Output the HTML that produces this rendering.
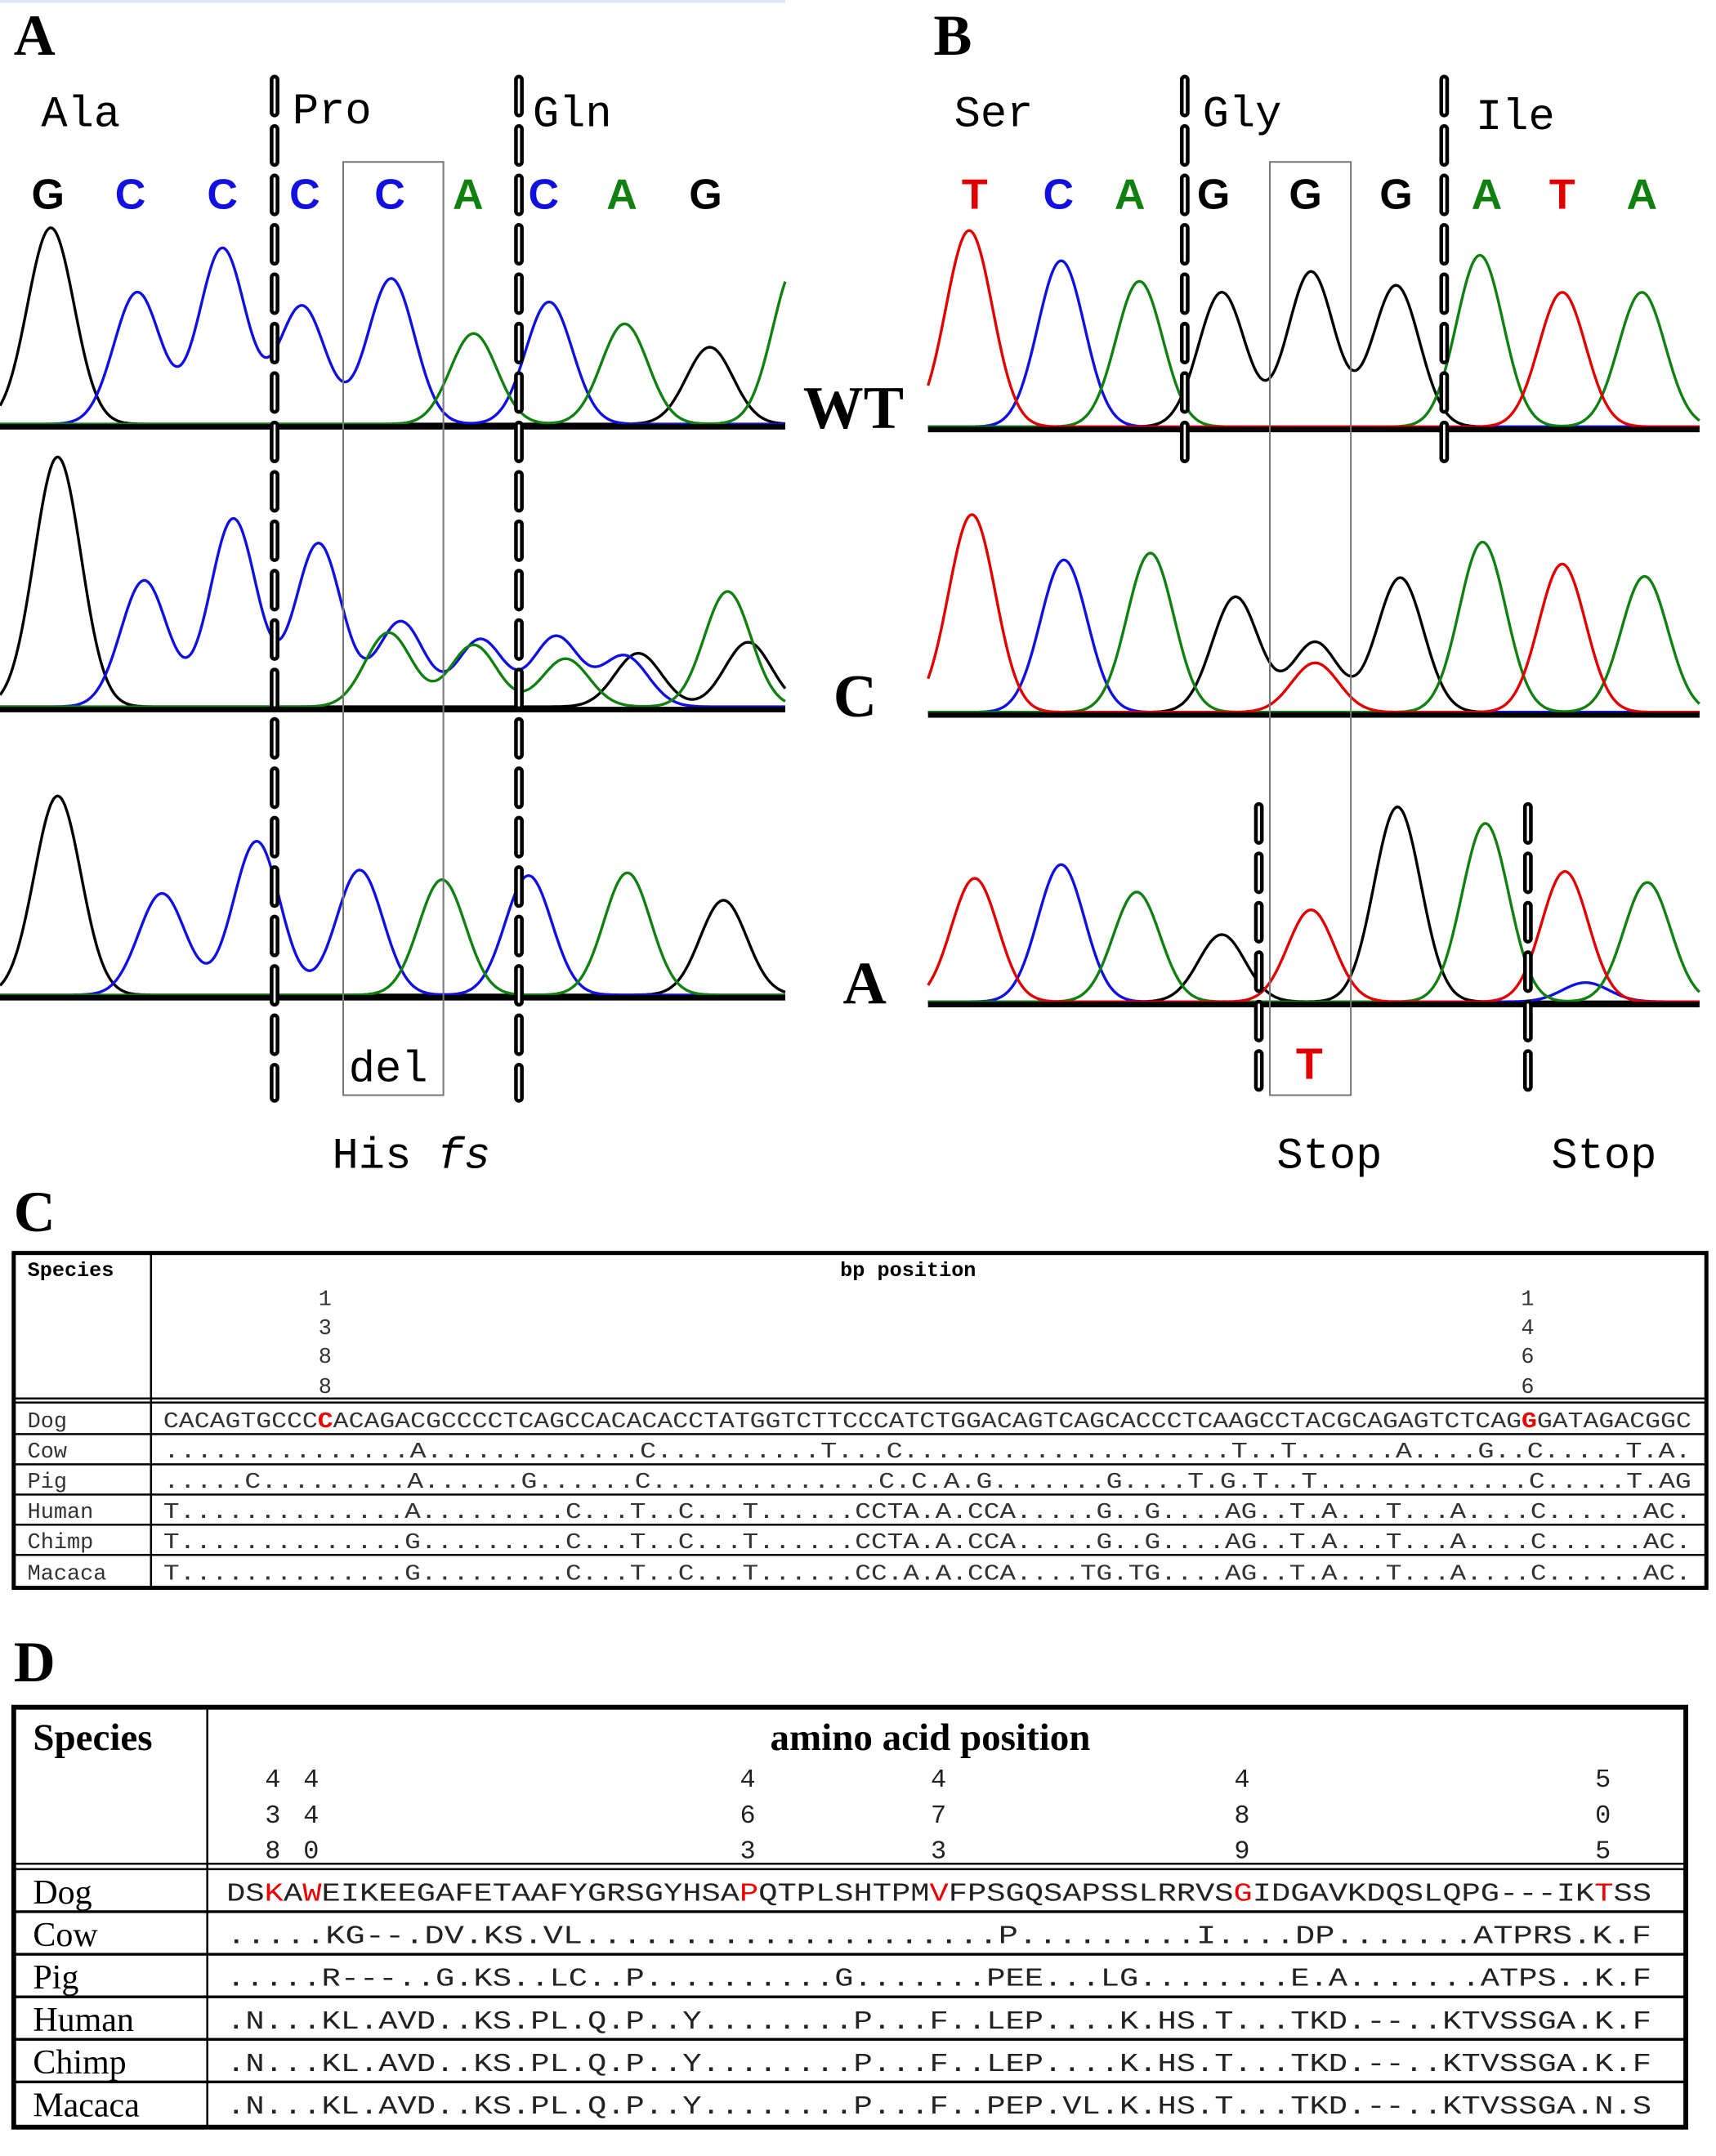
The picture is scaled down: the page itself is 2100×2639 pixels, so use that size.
<!DOCTYPE html>
<html><head><meta charset="utf-8"><style>
html,body{margin:0;padding:0;background:#fff;}
svg{display:block;}
.mono{font-family:"Liberation Mono",monospace;}
.serif{font-family:"Liberation Serif",serif;}
</style></head><body>
<svg id="fig" width="2100" height="2639" viewBox="0 0 1250 1571" preserveAspectRatio="none" xmlns="http://www.w3.org/2000/svg">
<rect x="0" y="0" width="1250" height="1571" fill="#fff"/>
<line x1="0" y1="1" x2="572" y2="1" stroke="#dde4f4" stroke-width="2"/>
<g class="serif" font-weight="bold" font-size="42" fill="#000">
<text x="10" y="40">A</text>
<text x="680" y="40">B</text>
<text x="10" y="897">C</text>
<text x="10" y="1225">D</text>
<text x="585" y="312" font-size="44">WT</text>
<text x="607" y="522" font-size="44">C</text>
<text x="614" y="731" font-size="44">A</text>
</g>
<g id="traces"></g>
<g id="overlays"></g>
<g class="mono" font-size="32" fill="#000">
<text x="30" y="92">Ala</text>
<text x="213" y="90">Pro</text>
<text x="388" y="92">Gln</text>
<text x="695" y="92">Ser</text>
<text x="876" y="92">Gly</text>
<text x="1075" y="94">Ile</text>
<text x="254" y="788">del</text>
<text x="242" y="851">His <tspan font-style="italic">fs</tspan></text>
<text x="930" y="851">Stop</text>
<text x="1130" y="851">Stop</text>
</g>
<text x="944" y="786" font-family="Liberation Sans, sans-serif" font-weight="bold" font-size="32" fill="#e00000">T</text>
<g id="bases" font-family="Liberation Sans, sans-serif" font-weight="bold" font-size="31"></g>

<!-- Table C -->
<g>
<rect x="10" y="913" width="1233" height="244" fill="none" stroke="#000" stroke-width="3"/>
<line x1="110" y1="913" x2="110" y2="1157" stroke="#000" stroke-width="1.5"/>
<line x1="10" y1="1019" x2="1243" y2="1019" stroke="#000" stroke-width="1.5"/>
<line x1="10" y1="1022" x2="1243" y2="1022" stroke="#000" stroke-width="1.5"/>
<g stroke="#000" stroke-width="1.5">
<line x1="10" y1="1045" x2="1243" y2="1045"/><line x1="10" y1="1067" x2="1243" y2="1067"/>
<line x1="10" y1="1089" x2="1243" y2="1089"/><line x1="10" y1="1111" x2="1243" y2="1111"/>
<line x1="10" y1="1133" x2="1243" y2="1133"/></g>
<g class="mono" font-size="15" font-weight="bold"><text x="20" y="930">Species</text>
<text x="612" y="930">bp position</text></g>
<g class="mono" font-size="16" fill="#333">
<text x="232" y="951">1</text><text x="232" y="972">3</text><text x="232" y="993">8</text><text x="232" y="1015">8</text>
<text x="1108" y="951">1</text><text x="1108" y="972">4</text><text x="1108" y="993">6</text><text x="1108" y="1015">6</text>
</g>
<g class="mono" font-size="16" fill="#333">
<text x="20" y="1040">Dog</text><text x="20" y="1062">Cow</text><text x="20" y="1084">Pig</text>
<text x="20" y="1106">Human</text><text x="20" y="1128">Chimp</text><text x="20" y="1151">Macaca</text>
</g>
<g class="mono" font-size="16" fill="#333">
<text x="119" y="1040" textLength="1113" lengthAdjust="spacingAndGlyphs">CACAGTGCCC<tspan fill="#e00" font-weight="bold">C</tspan>ACAGACGCCCCTCAGCCACACACCTATGGTCTTCCCATCTGGACAGTCAGCACCCTCAAGCCTACGCAGAGTCTCAG<tspan fill="#e00" font-weight="bold">G</tspan>GATAGACGGC</text>
<text x="119" y="1062" textLength="1113" lengthAdjust="spacingAndGlyphs">...............A.............C..........T...C....................T..T......A....G..C.....T.A.</text>
<text x="119" y="1084" textLength="1113" lengthAdjust="spacingAndGlyphs">.....C.........A......G......C..............C.C.A.G.......G....T.G.T..T.............C.....T.AG</text>
<text x="119" y="1106" textLength="1113" lengthAdjust="spacingAndGlyphs">T..............A.........C...T..C...T......CCTA.A.CCA.....G..G....AG..T.A...T...A....C......AC.</text>
<text x="119" y="1128" textLength="1113" lengthAdjust="spacingAndGlyphs">T..............G.........C...T..C...T......CCTA.A.CCA.....G..G....AG..T.A...T...A....C......AC.</text>
<text x="119" y="1151" textLength="1113" lengthAdjust="spacingAndGlyphs">T..............G.........C...T..C...T......CC.A.A.CCA....TG.TG....AG..T.A...T...A....C......AC.</text>
</g>
</g>

<!-- Table D -->
<g>
<rect x="10" y="1244" width="1218" height="306" fill="none" stroke="#000" stroke-width="3.5"/>
<line x1="151" y1="1244" x2="151" y2="1550" stroke="#000" stroke-width="1.5"/>
<line x1="10" y1="1358" x2="1228" y2="1358" stroke="#000" stroke-width="1.5"/>
<line x1="10" y1="1362" x2="1228" y2="1362" stroke="#000" stroke-width="1.5"/>
<g stroke="#000" stroke-width="2">
<line x1="10" y1="1393" x2="1228" y2="1393"/><line x1="10" y1="1424" x2="1228" y2="1424"/>
<line x1="10" y1="1455" x2="1228" y2="1455"/><line x1="10" y1="1486" x2="1228" y2="1486"/>
<line x1="10" y1="1517" x2="1228" y2="1517"/></g>
<g class="serif" font-size="28" font-weight="bold"><text x="24" y="1275">Species</text>
<text x="561" y="1275">amino acid position</text></g>
<g class="mono" font-size="19" fill="#222">
<text x="193" y="1302">4</text><text x="221" y="1302">4</text><text x="539" y="1302">4</text><text x="678" y="1302">4</text><text x="899" y="1302">4</text><text x="1162" y="1302">5</text>
<text x="193" y="1328">3</text><text x="221" y="1328">4</text><text x="539" y="1328">6</text><text x="678" y="1328">7</text><text x="899" y="1328">8</text><text x="1162" y="1328">0</text>
<text x="193" y="1354">8</text><text x="221" y="1354">0</text><text x="539" y="1354">3</text><text x="678" y="1354">3</text><text x="899" y="1354">9</text><text x="1162" y="1354">5</text>
</g>
<g class="serif" font-size="25" fill="#000">
<text x="24" y="1387">Dog</text><text x="24" y="1418">Cow</text><text x="24" y="1449">Pig</text>
<text x="24" y="1480">Human</text><text x="24" y="1511">Chimp</text><text x="24" y="1542">Macaca</text>
</g>
<g class="mono" font-size="19" fill="#222">
<text x="165" y="1385" textLength="1038" lengthAdjust="spacingAndGlyphs">DS<tspan fill="#e00">K</tspan>A<tspan fill="#e00">W</tspan>EIKEEGAFETAAFYGRSGYHSA<tspan fill="#e00">P</tspan>QTPLSHTPM<tspan fill="#e00">V</tspan>FPSGQSAPSSLRRVS<tspan fill="#e00">G</tspan>IDGAVKDQSLQPG---IK<tspan fill="#e00">T</tspan>SS</text>
<text x="165" y="1416" textLength="1038" lengthAdjust="spacingAndGlyphs">.....KG--.DV.KS.VL.....................P.........I....DP.......ATPRS.K.F</text>
<text x="165" y="1447" textLength="1038" lengthAdjust="spacingAndGlyphs">.....R---..G.KS..LC..P..........G.......PEE...LG........E.A.......ATPS..K.F</text>
<text x="165" y="1478" textLength="1038" lengthAdjust="spacingAndGlyphs">.N...KL.AVD..KS.PL.Q.P..Y........P...F..LEP....K.HS.T...TKD.--..KTVSSGA.K.F</text>
<text x="165" y="1509" textLength="1038" lengthAdjust="spacingAndGlyphs">.N...KL.AVD..KS.PL.Q.P..Y........P...F..LEP....K.HS.T...TKD.--..KTVSSGA.K.F</text>
<text x="165" y="1540" textLength="1038" lengthAdjust="spacingAndGlyphs">.N...KL.AVD..KS.PL.Q.P..Y........P...F..PEP.VL.K.HS.T...TKD.--..KTVSSGA.N.S</text>
</g>
</g>
</svg>
<script>
// Chromatogram peak data: [color, center, peakTopY]
const panelA_WT = [['k',37,168],['b',100,215],['b',162,183],['b',220,225],['b',285,205],['g',345,245],['b',400,222],['g',455,238],['k',517,255],['g',580,195]];
const panelA_C  = [['k',42,335],['b',105,425],['b',170,380],['b',232,398],['b',292,455],['g',283,463],['g',345,472],['b',350,468],['b',405,466],['g',412,482],['k',465,478],['b',455,480],['g',530,433],['k',545,470]];
const panelA_A  = [['k',42,582],['b',118,653],['b',187,615],['b',262,636],['g',322,643],['b',385,640],['g',457,638],['k',527,658]];
const panelB_WT = [['r',706,170],['b',773,192],['g',830,207],['k',890,215],['k',955,200],['k',1017,210],['g',1078,188],['r',1138,215],['g',1196,215]];
const panelB_C  = [['r',708,377],['b',775,410],['g',838,405],['k',900,437],['k',958,470],['r',958,485],['k',1020,423],['g',1080,397],['r',1138,413],['g',1198,422]];
const panelB_A  = [['r',710,642],['b',773,632],['g',828,652],['k',890,683],['r',955,665],['k',1018,590],['g',1082,602],['r',1140,637],['b',1155,718],['g',1200,645]];
const traceNames = ['trace-a-wt','trace-a-c','trace-a-a','trace-b-wt','trace-b-c','trace-b-a'];
const traceData = [panelA_WT,panelA_C,panelA_A,panelB_WT,panelB_C,panelB_A];
const baselines = [311,517,727,313,521,732];
const xRanges = [[0,572],[0,572],[0,572],[676,1238],[676,1238],[676,1238]];
const baseLettersA = ['G','C','C','C','C','A','C','A','G'];
const baseXA = [35,95,162,222,284,341,396,453,514];
const baseLettersB = ['T','C','A','G','G','G','A','T','A'];
const baseXB = [710,771,823,884,951,1017,1083,1138,1196];

const NS='http://www.w3.org/2000/svg';
const COL={k:'#000',b:'#1010e0',g:'#108010',r:'#e00000'};
const BCOL={G:'#000',C:'#1010e0',A:'#108010',T:'#e00000'};
const tr=document.getElementById('traces');
function peakVal(x,c,h){const s=17;const d=x-c;return h*Math.exp(-d*d/(2*s*s));}
traceData.forEach((peaks,i)=>{
  const g=document.createElementNS(NS,'g');
  
  
  const base=baselines[i],[x0,x1]=xRanges[i];
  ['k','b','g','r'].forEach(c=>{
    const ps=peaks.filter(p=>p[0]===c); if(!ps.length) return;
    let d='';
    for(let x=x0;x<=x1;x+=1){let v=0;ps.forEach(p=>{v+=peakVal(x,p[1],base-p[2]);});d+=(x===x0?'M':'L')+x+' '+(base-2-v).toFixed(1);}
    const path=document.createElementNS(NS,'path');
    
    
    path.setAttribute('d',d);path.setAttribute('fill','none');path.setAttribute('stroke',COL[c]);path.setAttribute('stroke-width','2');
    g.appendChild(path);
  });
  const bl=document.createElementNS(NS,'line');
  
  
  bl.setAttribute('x1',x0);bl.setAttribute('x2',x1);bl.setAttribute('y1',base);bl.setAttribute('y2',base);bl.setAttribute('stroke','#000');bl.setAttribute('stroke-width','4');
  g.appendChild(bl);
  tr.appendChild(g);
});
const bg=document.getElementById('bases');
function addBases(letters,xs){letters.forEach((l,i)=>{const t=document.createElementNS(NS,'text');
  
  
  t.setAttribute('x',xs[i]);t.setAttribute('y',152);t.setAttribute('text-anchor','middle');t.setAttribute('fill',BCOL[l]);t.textContent=l;bg.appendChild(t);});}
addBases(baseLettersA,baseXA);addBases(baseLettersB,baseXB);
const ov=document.getElementById('overlays');
[[250,118,323,798],[925,118,984,798]].forEach(r=>{const e=document.createElementNS(NS,'rect');
  
  
  e.setAttribute('x',r[0]);e.setAttribute('y',r[1]);e.setAttribute('width',r[2]-r[0]);e.setAttribute('height',r[3]-r[1]);e.setAttribute('fill','none');e.setAttribute('stroke','#777');e.setAttribute('stroke-width','1.2');ov.appendChild(e);});
[[200,58,800],[378,58,800],[863,58,338],[1052,58,338],[917,588,800],[1113,588,800]].forEach(l=>{
  [['#000',7],['#fff',1.6]].forEach(s=>{const e=document.createElementNS(NS,'line');
  
  
  e.setAttribute('x1',l[0]);e.setAttribute('x2',l[0]);e.setAttribute('y1',l[1]);e.setAttribute('y2',l[2]);e.setAttribute('stroke',s[0]);e.setAttribute('stroke-width',s[1]);e.setAttribute('stroke-dasharray','24 12');e.setAttribute('stroke-linecap','round');ov.appendChild(e);});
});
</script>
</body></html>
